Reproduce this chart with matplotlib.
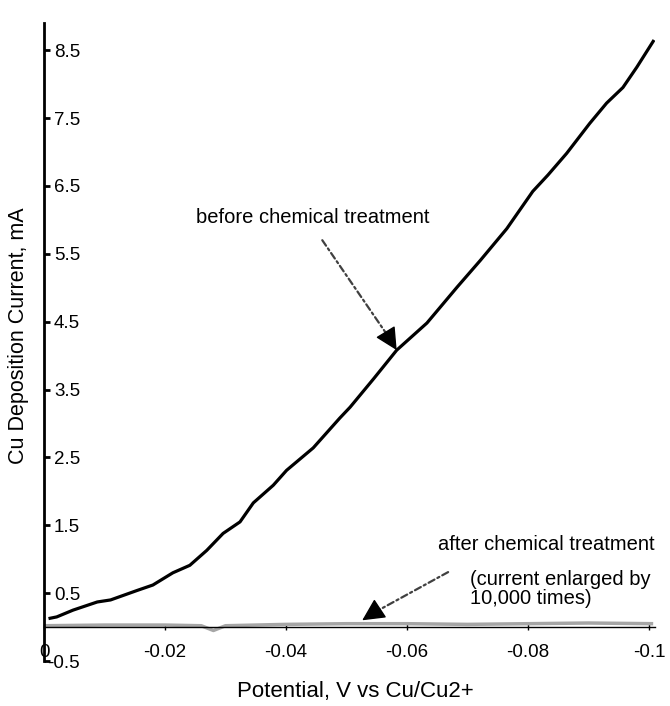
import numpy as np
import matplotlib
matplotlib.use('Agg')
import matplotlib.pyplot as plt

plt.rcParams['font.family'] = ['Liberation Sans', 'DejaVu Sans']

# before chemical treatment (mA), potential in V vs Cu/Cu2+
V_before = [-0.001, -0.0021, -0.0048, -0.0088, -0.011, -0.0154, -0.018, -0.0213,
            -0.0241, -0.0269, -0.0296, -0.0324, -0.0346, -0.0379, -0.0401, -0.0445,
            -0.0489, -0.0506, -0.0545, -0.0583, -0.0633, -0.0683, -0.0721, -0.0765,
            -0.0808, -0.0833, -0.0864, -0.0902, -0.093, -0.0957, -0.098, -0.1007]
I_before = [0.13, 0.15, 0.25, 0.37, 0.40, 0.54, 0.62, 0.80,
            0.91, 1.13, 1.38, 1.55, 1.83, 2.09, 2.31, 2.64,
            3.08, 3.24, 3.66, 4.08, 4.48, 5.01, 5.40, 5.87,
            6.42, 6.66, 6.98, 7.42, 7.72, 7.95, 8.25, 8.63]

# after chemical treatment (current enlarged by 10,000 times)
V_after = [0.0, -0.01, -0.02, -0.026, -0.028, -0.030, -0.04, -0.05, -0.06, -0.07, -0.08, -0.09, -0.1007]
I_after = [0.02, 0.03, 0.03, 0.02, -0.05, 0.02, 0.04, 0.05, 0.05, 0.04, 0.05, 0.06, 0.05]

xticks = [0, -0.02, -0.04, -0.06, -0.08, -0.1]
xticklabels = ['0', '-0.02', '-0.04', '-0.06', '-0.08', '-0.1']
yticks = [-0.5, 0.5, 1.5, 2.5, 3.5, 4.5, 5.5, 6.5, 7.5, 8.5]

fig = plt.figure(figsize=(6.7, 7.06), dpi=100)
ax = fig.add_axes([0.0657, 0.0637, 0.9776 - 0.0657, 0.9674 - 0.0637])

ax.plot(V_after, I_after, color='0.65', lw=2.5, solid_capstyle='butt')
ax.plot(V_before, I_before, color='black', lw=2.3)

ax.set_xlim(0, -0.101)
ax.set_ylim(-0.5, 8.9)

for s in ['top', 'right']:
    ax.spines[s].set_visible(False)
ax.spines['bottom'].set_position(('data', 0))
ax.spines['bottom'].set_linewidth(1.0)
ax.spines['left'].set_linewidth(2.0)

ax.set_xticks(xticks)
ax.set_xticklabels(xticklabels)
ax.set_yticks(yticks)
ax.set_yticklabels(['%.1f' % v for v in yticks])
ax.tick_params(axis='x', direction='inout', length=4, width=1, pad=10, labelsize=13.5)
ax.tick_params(axis='y', direction='in', length=4, width=2, pad=-26, labelsize=13.5)
for lab in ax.get_yticklabels():
    lab.set_horizontalalignment('right')

fig.text(0.027, 0.525, 'Cu Deposition Current, mA', rotation=90, ha='center', va='center', fontsize=15.5)
fig.text(0.53, 0.02, 'Potential, V vs Cu/Cu2+', ha='center', va='center', fontsize=16)

ax.text(-0.0251, 6.04, 'before chemical treatment', ha='left', va='center', fontsize=14.5)
ax.text(-0.0651, 1.21, 'after chemical treatment', ha='left', va='center', fontsize=14.5)
ax.text(-0.0704, 0.56, '(current enlarged by\n10,000 times)', ha='left', va='center', fontsize=14.5,
        linespacing=1.0)

dash = (0, (3, 1.5, 1, 1.5))
# before arrow
ax.annotate('', xy=(-0.0570, 4.27), xytext=(-0.0460, 5.70),
            arrowprops=dict(arrowstyle='-', linestyle=dash, color='0.25', lw=1.6, shrinkA=0, shrinkB=0))
ax.annotate('', xy=(-0.0583, 4.08), xytext=(-0.0570, 4.27),
            arrowprops=dict(arrowstyle='-|>,head_length=1.0,head_width=0.5', color='black', lw=1,
                            shrinkA=0, shrinkB=0, mutation_scale=14))
# after arrow
ax.annotate('', xy=(-0.0543, 0.2), xytext=(-0.0668, 0.81),
            arrowprops=dict(arrowstyle='-', linestyle=dash, color='0.25', lw=1.6, shrinkA=0, shrinkB=0))
ax.annotate('', xy=(-0.0526, 0.10), xytext=(-0.0543, 0.2),
            arrowprops=dict(arrowstyle='-|>,head_length=1.0,head_width=0.5', color='black', lw=1,
                            shrinkA=0, shrinkB=0, mutation_scale=14))

plt.savefig('out.png', dpi=100)
